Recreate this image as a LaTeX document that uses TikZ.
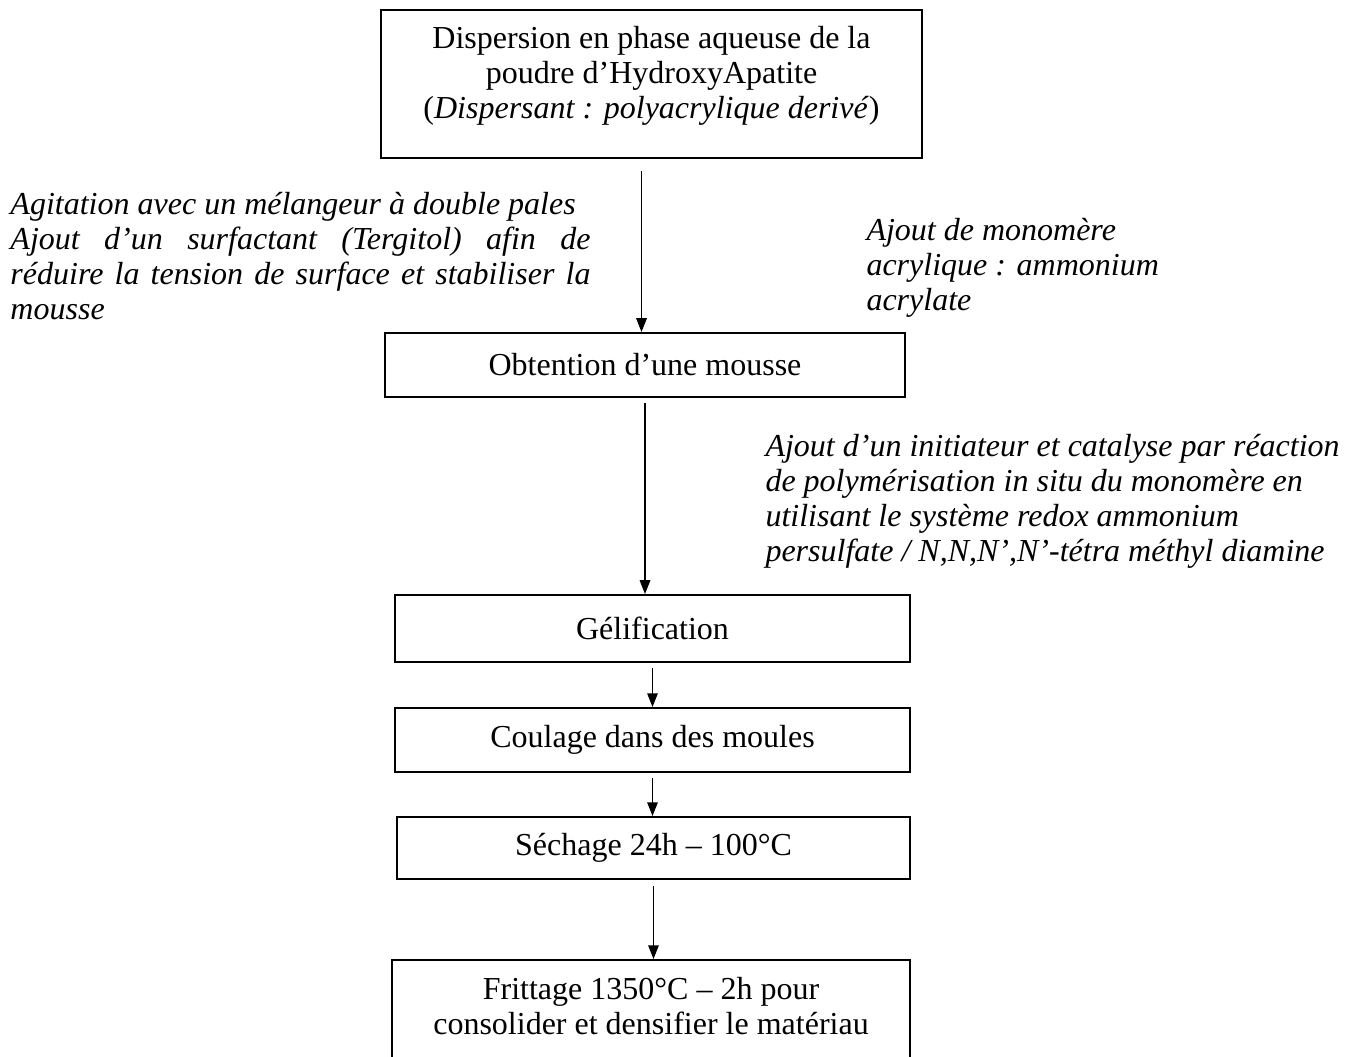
\documentclass[tikz,border=0pt]{standalone}
\usepackage{fontspec}
\setmainfont{Liberation Serif}
\usetikzlibrary{arrows.meta, positioning}

\begin{document}
\begin{tikzpicture}[
  x=0.4pt, y=-0.4pt,
  font=\fontsize{12.8}{14}\selectfont,
  proc/.style={rectangle, draw=black, line width=0.8pt, align=center,
               minimum width=206pt, minimum height=26pt, inner sep=2pt},
  note/.style={anchor=west, align=left, inner sep=0pt,
               font=\fontsize{12.8}{14}\selectfont\itshape},
  arr/.style={-{Triangle[length=5.5pt, width=4.2pt]}, line width=0.6pt, shorten <=2pt}
]
  \clip (0,0) rectangle (1358,1057);
  % process boxes
  \node[proc, minimum width=216.4pt, minimum height=59.2pt] (disp) at (651.5,84) {};
  \node[align=center] (disptxt) at (651.5,76) {Dispersion en phase aqueuse de la\\
    poudre d’HydroxyApatite\\ (\textit{Dispersant : polyacrylique derivé})};
  \node[proc, minimum width=208pt, minimum height=25.6pt] (mousse) at (645,365) {Obtention d’une mousse};
  \node[proc, minimum height=26.8pt] (gel) at (652.5,628.5) {Gélification};
  \node[proc, minimum height=25.6pt] (coul) at (652.5,740) {Coulage dans des moules};
  \node[proc, minimum width=205.2pt, minimum height=24.8pt] (sech) at (653.5,848) {Séchage 24h – 100°C};
  \node[proc, minimum width=207.2pt, minimum height=48pt] (fritt) at (651,1020) {};
  \node[align=center] (fritttxt) at (651,1006) {Frittage 1350°C – 2h pour\\
    consolider et densifier le matériau};
  % notes beside the arrows
  \node[note, text width=232pt, align=justify] (agit) at (10,256) {Agitation avec un mélangeur à double pales\\
    Ajout d’un surfactant (Tergitol) afin de\linebreak réduire la tension de surface et stabiliser la\linebreak mousse};
  \node[note] (mono) at (866,268) {Ajout de monomère\\ acrylique : ammonium\\ acrylate};
  \node[note] (init) at (765,501) {Ajout d’un initiateur et catalyse par réaction\\
    de polymérisation in situ du monomère en\\ utilisant le système redox ammonium\\
    persulfate / N,N,N’,N’-tétra méthyl diamine};
  % arrows
  \draw[arr, shorten <=4.8pt] ([xshift=-4pt]disp.south) -- ([xshift=-4pt]disp.south |- mousse.north);
  \draw[arr] (mousse.south) -- (mousse.south |- gel.north);
  \draw[arr] (gel.south) -- (gel.south |- coul.north);
  \draw[arr] (coul.south) -- (coul.south |- sech.north);
  \draw[arr, shorten <=2.4pt] (sech.south) -- (sech.south |- fritt.north);
\end{tikzpicture}
\end{document}
